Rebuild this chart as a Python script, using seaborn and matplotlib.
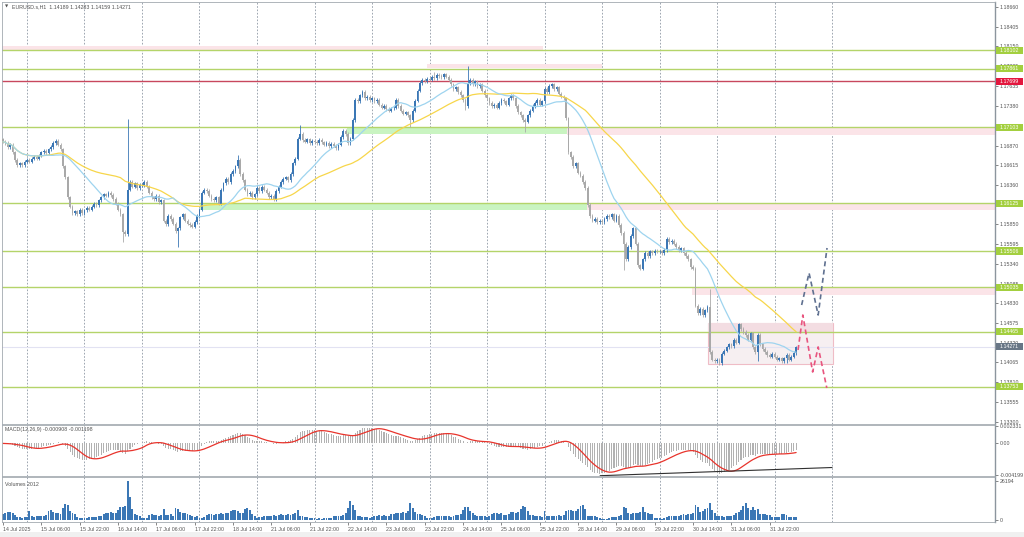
import numpy as np
import pandas as pd
import matplotlib
matplotlib.use("Agg")
import matplotlib.pyplot as plt
import matplotlib.transforms as mtrans
from matplotlib.patches import Rectangle
import seaborn as sns

sns.set_style("white")
plt.rcParams['font.family'] = ['Liberation Sans', 'DejaVu Sans']

# ---- hourly closes, EURUSD H1 ----
close_14jul = [1.1692, 1.1690, 1.1685, 1.1688, 1.1678, 1.1668, 1.1662, 1.1664, 1.1662, 1.1666]
close_15jul = [1.1668, 1.1666, 1.1670, 1.1672, 1.1670, 1.1674, 1.1678, 1.1680, 1.1677, 1.1682, 1.1685, 1.1690,
               1.1693, 1.1688, 1.1682, 1.1660, 1.1646, 1.1620, 1.1608, 1.1600, 1.1602, 1.1598, 1.1604, 1.1600]
close_16jul = [1.1603, 1.1606, 1.1604, 1.1608, 1.1612, 1.1610, 1.1616, 1.1620, 1.1624, 1.1622, 1.1626, 1.1623,
               1.1618, 1.1612, 1.1604, 1.1598, 1.1575, 1.1572, 1.1630, 1.1640, 1.1634, 1.1638, 1.1632, 1.1636]
close_17jul = [1.1636, 1.1640, 1.1634, 1.1626, 1.1620, 1.1618, 1.1622, 1.1614, 1.1616, 1.1590, 1.1585, 1.1596,
               1.1592, 1.1586, 1.1576, 1.1580, 1.1594, 1.1598, 1.1590, 1.1586, 1.1584, 1.1582, 1.1588, 1.1596]
close_18jul = [1.1604, 1.1626, 1.1630, 1.1628, 1.1622, 1.1618, 1.1616, 1.1620, 1.1612, 1.1630, 1.1638, 1.1644,
               1.1640, 1.1650, 1.1654, 1.1660, 1.1668, 1.1650, 1.1642, 1.1630, 1.1624, 1.1626, 1.1620, 1.1624]
close_21jul = [1.1632, 1.1628, 1.1634, 1.1630, 1.1626, 1.1620, 1.1622, 1.1618, 1.1628, 1.1634, 1.1640, 1.1644,
               1.1646, 1.1642, 1.1650, 1.1664, 1.1670, 1.1696, 1.1702, 1.1694, 1.1692, 1.1695, 1.1690, 1.1693]
close_22jul = [1.1692, 1.1690, 1.1694, 1.1691, 1.1688, 1.1690, 1.1686, 1.1689, 1.1687, 1.1684, 1.1688, 1.1698,
               1.1706, 1.1702, 1.1690, 1.1696, 1.1720, 1.1746, 1.1744, 1.1752, 1.1756, 1.1748, 1.1750, 1.1746]
close_23jul = [1.1748, 1.1744, 1.1746, 1.1740, 1.1736, 1.1738, 1.1734, 1.1732, 1.1735, 1.1736, 1.1746, 1.1738,
               1.1732, 1.1728, 1.1730, 1.1726, 1.1720, 1.1732, 1.1745, 1.1758, 1.1768, 1.1772, 1.1770, 1.1773]
close_24jul = [1.1772, 1.1776, 1.1774, 1.1778, 1.1777, 1.1775, 1.1779, 1.1776, 1.1772, 1.1766, 1.1760, 1.1762,
               1.1756, 1.1752, 1.1746, 1.1738, 1.1768, 1.1772, 1.1766, 1.1770, 1.1764, 1.1766, 1.1758, 1.1752]
close_25jul = [1.1748, 1.1742, 1.1738, 1.1740, 1.1736, 1.1742, 1.1746, 1.1744, 1.1740, 1.1748, 1.1752, 1.1748,
               1.1738, 1.1730, 1.1726, 1.1720, 1.1718, 1.1726, 1.1732, 1.1738, 1.1742, 1.1746, 1.1740, 1.1744]
close_28jul = [1.1760, 1.1756, 1.1764, 1.1766, 1.1760, 1.1762, 1.1754, 1.1750, 1.1748, 1.1722, 1.1678, 1.1672,
               1.1660, 1.1664, 1.1652, 1.1648, 1.1640, 1.1632, 1.1610, 1.1596, 1.1590, 1.1592, 1.1588, 1.1590]
close_29jul = [1.1588, 1.1592, 1.1596, 1.1594, 1.1598, 1.1590, 1.1596, 1.1584, 1.1574, 1.1560, 1.1540, 1.1556,
               1.1570, 1.1580, 1.1560, 1.1532, 1.1528, 1.1540, 1.1548, 1.1544, 1.1550, 1.1548, 1.1551, 1.1550]
close_30jul = [1.1550, 1.1548, 1.1552, 1.1566, 1.1562, 1.1564, 1.1560, 1.1556, 1.1552, 1.1554, 1.1548, 1.1544,
               1.1540, 1.1530, 1.1528, 1.1480, 1.1470, 1.1476, 1.1468, 1.1474, 1.1478, 1.1420, 1.1410, 1.1408]
close_31jul = [1.1410, 1.1406, 1.1418, 1.1422, 1.1426, 1.1430, 1.1428, 1.1436, 1.1432, 1.1456, 1.1450, 1.1446,
               1.1442, 1.1436, 1.1444, 1.1426, 1.1420, 1.1442, 1.1430, 1.1424, 1.1420, 1.1416, 1.1414, 1.1418]
close_01aug = [1.1414, 1.1410, 1.1412, 1.1408, 1.1412, 1.1416, 1.1410, 1.1414, 1.14189, 1.14271]
first_open = 1.1695

# notable wicks (bar index -> price)
wick_high = {52: 1.1721, 98: 1.1675, 124: 1.1714, 194: 1.1790, 180: 1.1782, 295: 1.1502, 331: 1.14283}
wick_low = {50: 1.1562, 73: 1.1556, 170: 1.1711, 193: 1.1733, 218: 1.1705, 259: 1.1526,
            299: 1.1403, 315: 1.1408, 327: 1.1406, 331: 1.14159}

# tick volumes
vol_14jul = [3800, 4500, 5100, 5100, 4500, 3200, 1900, 1900, 1300, 1900]
vol_15jul = [2000, 5800, 2600, 2300, 2800, 2500, 3000, 2600, 3200, 5800, 6400, 5400,
             4500, 4800, 4200, 8300, 10900, 10200, 6000, 4500, 3800, 2000, 1500, 1300]
vol_16jul = [1300, 1600, 1900, 2200, 1800, 2100, 2400, 3000, 4200, 4800, 4500, 5100,
             4400, 5000, 7000, 9000, 8600, 9200, 26194, 15400, 7700, 4200, 3500, 2600]
vol_17jul = [1300, 1100, 1500, 3400, 3800, 3200, 3600, 3000, 3500, 7700, 3500, 3200,
             3800, 3000, 8000, 7200, 5600, 4500, 4800, 4000, 3200, 2500, 2200, 2600]
vol_18jul = [1300, 1400, 1800, 3600, 4200, 3800, 3400, 3900, 4300, 4600, 4000, 4800,
             4400, 5800, 6400, 7000, 6200, 5000, 4600, 7700, 8000, 6500, 3800, 2600]
vol_21jul = [1500, 2000, 2300, 2600, 2800, 3000, 2700, 3200, 2900, 3400, 3800, 3600,
             3200, 3900, 3500, 4200, 4600, 6400, 3000, 2400, 2200, 1900, 1600, 1400]
vol_22jul = [1100, 900, 1200, 1000, 1300, 1500, 1200, 1600, 2600, 3000, 2400, 2800,
             3200, 4500, 7800, 12800, 10200, 6400, 3000, 2400, 2200, 1800, 1900, 1500]
vol_23jul = [2200, 2600, 2900, 3200, 2800, 3100, 2700, 3000, 3800, 4200, 4600, 5000,
             4500, 5200, 4800, 6000, 11500, 8000, 5400, 4200, 3800, 3500, 2400, 1500]
vol_24jul = [1200, 1500, 2200, 2500, 2800, 2400, 2600, 3000, 2700, 2300, 2900, 3200,
             3600, 4000, 6400, 9000, 8600, 5800, 4800, 3400, 3000, 2800, 2600, 2400]
vol_25jul = [2200, 2800, 4200, 4800, 4400, 3800, 4600, 3600, 3200, 4000, 5100, 5400,
             4800, 5600, 7200, 9600, 8400, 6200, 3600, 3200, 3000, 2600, 2800, 1800]
vol_28jul = [5800, 2600, 2400, 2800, 2500, 2900, 3100, 2700, 3300, 6000, 7000, 6600,
             6200, 5800, 7600, 9600, 10400, 7400, 3000, 2600, 2400, 2800, 2200, 1600]
vol_29jul = [700, 600, 900, 1200, 1800, 2000, 1700, 2400, 3600, 9000, 7800, 4800,
             4200, 5000, 4400, 4600, 5200, 8600, 5400, 4600, 4200, 3800, 1500, 1200]
vol_30jul = [1200, 1000, 1400, 1700, 2500, 2800, 2400, 3000, 2600, 3600, 4000, 3400,
             3800, 4200, 5000, 10200, 8600, 5400, 6000, 7600, 8200, 11500, 6800, 4400]
vol_31jul = [2800, 2400, 2600, 2200, 2700, 3000, 2500, 3200, 5000, 5600, 6400, 9600,
             11500, 8000, 7000, 9000, 6400, 7200, 4200, 3800, 4000, 3600, 3400, 2000]
vol_01aug = [1800, 2200, 2000, 3800, 4200, 3600, 2200, 2000, 1800, 2012]

# levels
green_levels = [1.18102, 1.17861, 1.17103, 1.16125, 1.15506, 1.15035, 1.14465, 1.13753]
red_level = 1.17699
last_price = 1.14271
# scale ticks (1.17125 and 1.16105 sit fully under level tags in the terminal)
price_ticks = [1.18660, 1.18405, 1.18150, 1.17895, 1.17635, 1.17380, 1.16870, 1.16615,
               1.16360, 1.15850, 1.15595, 1.15340, 1.15085, 1.14830, 1.14575, 1.14320,
               1.14065, 1.13810, 1.13555, 1.13300]
# zones: (start bar, end bar, low, high, kind)
zones = [(-0.5, 225.4, 1.18104, 1.18156, 'pink'),
         (177.0, 250.0, 1.17872, 1.17923, 'pink'),
         (143.6, 235.4, 1.17019, 1.17109, 'green'),
         (235.4, 414.5, 1.17010, 1.17103, 'pink'),
         (82.2, 243.7, 1.16036, 1.16127, 'green'),
         (243.7, 414.5, 1.16030, 1.16125, 'pink'),
         (287.6, 414.5, 1.14938, 1.15024, 'pink')]
box = (294.2, 346.4, 1.14046, 1.14576)
box_band = (294.2, 346.4, 1.14447, 1.14576)
# forecast paths
fc_up_bar = [333.3, 336.4, 340.2, 343.9]
fc_up_price = [1.14808, 1.15222, 1.14679, 1.15545]
fc_dn_bar = [331.8, 333.8, 337.9, 340.2, 343.8]
fc_dn_price = [1.14227, 1.14679, 1.13942, 1.14266, 1.13736]
macd_trend_bar = [249.2, 346.0]
macd_trend_val = [-0.00426, -0.00318]

day_starts = [10, 34, 58, 82, 106, 130, 154, 178, 202, 226, 250, 274, 298, 322, 346]
x_labels = ['14 Jul 2025', '15 Jul 06:00', '15 Jul 22:00', '16 Jul 14:00', '17 Jul 06:00',
            '17 Jul 22:00', '18 Jul 14:00', '21 Jul 06:00', '21 Jul 22:00', '22 Jul 14:00',
            '23 Jul 06:00', '23 Jul 22:00', '24 Jul 14:00', '25 Jul 06:00', '25 Jul 22:00',
            '28 Jul 14:00', '29 Jul 06:00', '29 Jul 22:00', '30 Jul 14:00', '31 Jul 06:00',
            '31 Jul 22:00']

# ---- assemble ----
c = np.array(close_14jul + close_15jul + close_16jul + close_17jul + close_18jul + close_21jul
             + close_22jul + close_23jul + close_24jul + close_25jul + close_28jul + close_29jul
             + close_30jul + close_31jul + close_01aug)
vol = np.array(vol_14jul + vol_15jul + vol_16jul + vol_17jul + vol_18jul + vol_21jul + vol_22jul
               + vol_23jul + vol_24jul + vol_25jul + vol_28jul + vol_29jul + vol_30jul + vol_31jul
               + vol_01aug)
idx = np.arange(len(c))
o = np.r_[first_open, c[:-1]]
hi = np.maximum(o, c) + 0.00022
lo = np.minimum(o, c) - 0.00022
for k, v in wick_high.items():
    hi[k] = v
for k, v in wick_low.items():
    lo[k] = v

s = pd.Series(c)
ma_fast = s.rolling(20, min_periods=1).mean()
ma_slow = s.rolling(50, min_periods=1).mean()
macd = s.ewm(span=12, adjust=False).mean() - s.ewm(span=26, adjust=False).mean()
signal = macd.rolling(9, min_periods=1).mean()

BLUE = '#3b77b5'
GRAY = '#a9a9a9'
LEVEL_GREEN = '#b4d46a'
LABEL_GREEN = '#a3cf3f'
PINK = '#fbe4e8'
GREEN_Z = '#c9f4c1'
GRID = '#8e98a4'
SPINE = '#a2a9b0'

W, H = 1024, 537
fig = plt.figure(figsize=(W / 100, H / 100), dpi=100)
fig.patches.append(Rectangle((0, 0), 1, 5 / H, transform=fig.transFigure, fc='#f0f0f0', ec='none'))

def px_axes(top, bottom):
    return fig.add_axes([2 / W, 1 - bottom / H, 993 / W, (bottom - top) / H])

ax = px_axes(2, 424)
axm = px_axes(425, 476)
axv = px_axes(477, 522)
XL = (-0.42, 414.0)

# ---- price panel ----
for x0, x1, y0, y1, kind in zones:
    ax.add_patch(Rectangle((x0, y0), x1 - x0, y1 - y0, fc=PINK if kind == 'pink' else GREEN_Z,
                           ec='none', zorder=1))
bx0, bx1, by0, by1 = box
ax.add_patch(Rectangle((bx0, by0), bx1 - bx0, by1 - by0, fc='#f6eff1', ec='#efbcc6', lw=0.8, zorder=1))
bx0, bx1, by0, by1 = box_band
ax.add_patch(Rectangle((bx0, by0), bx1 - bx0, by1 - by0, fc='#f3dde2', ec='none', zorder=1))

for lv in green_levels:
    ax.axhline(lv, color=LEVEL_GREEN, lw=1.0, zorder=2)
ax.axhline(red_level, color='#c8485e', lw=1.0, zorder=2)
ax.axhline(last_price, color='#e2e2f2', lw=0.8, zorder=2)

up = c >= o
col = np.where(up, BLUE, GRAY)
ax.vlines(idx, lo, hi, colors=col, lw=0.6, zorder=3)
body = np.maximum(np.abs(c - o), 0.00005)
ax.bar(idx, body, bottom=np.minimum(o, c), width=0.75, color=col, linewidth=0, zorder=4)

sns.lineplot(x=idx, y=ma_slow.values, ax=ax, color='#f7d64a', lw=0.9, estimator=None, zorder=5)
sns.lineplot(x=idx, y=ma_fast.values, ax=ax, color='#9ed4ef', lw=0.9, estimator=None, zorder=5)

ax.plot(fc_up_bar, fc_up_price, color='#5f7090', lw=1.2, ls=(0, (3, 2)), zorder=6)
ax.plot(fc_dn_bar, fc_dn_price, color='#e8557f', lw=1.2, ls=(0, (3, 2)), zorder=6)

ax.set_xlim(*XL)
ax.set_ylim(1.13270, 1.18725)
ax.set_yticks(price_ticks)
ax.set_yticklabels([f'{t:.5f}' for t in price_ticks])

# coloured level labels on the price scale
tr = mtrans.blended_transform_factory(ax.transAxes, ax.transData)
hgt = 0.00092
def level_tag(val, fc):
    ax.add_patch(Rectangle((1.0012, val - hgt / 2), 0.0275, hgt, transform=tr, fc=fc, ec='none',
                           clip_on=False, zorder=10))
    ax.text(1.0045, val, f'{val:.5f}', transform=tr, ha='left', va='center', fontsize=3.8,
            color='white', zorder=11, clip_on=False)
for lv in green_levels:
    level_tag(lv, LABEL_GREEN)
level_tag(red_level, '#e3173e')
level_tag(last_price, '#687686')

# ---- MACD panel ----
axm.bar(idx, macd.values, width=0.45, color='#b2b2b2', linewidth=0)
sns.lineplot(x=idx, y=signal.values, ax=axm, color='#e8342c', lw=0.9, estimator=None)
axm.plot(macd_trend_bar, macd_trend_val, color='#303030', lw=0.8)
axm.set_xlim(*XL)
axm.set_ylim(-0.00430, 0.00243)
axm.set_yticks([0.002331, 0.0, -0.004199])
axm.set_yticklabels(['0.002331', '0.00', '-0.004199'])

# ---- volume panel ----
sns.barplot(x=idx, y=vol, native_scale=True, color=BLUE, saturation=1, width=0.8,
            errorbar=None, ax=axv, linewidth=0)
axv.set_xlim(*XL)
axv.set_ylim(-1343, 28881)
axv.set_yticks([26194, 0])
axv.set_yticklabels(['26194', '0'])
axv.set_xticks(idx[::16][:len(x_labels)])
axv.set_xticklabels(x_labels, ha='left')

for a in (ax, axm, axv):
    a.set_xlabel('')
    a.set_ylabel('')
    a.yaxis.tick_right()
    a.tick_params(axis='y', labelsize=3.8, length=2, width=0.5, pad=1.2, colors='#555555')
    for d in day_starts:
        a.axvline(d, color=GRID, lw=0.6, ls=(0, (2, 2)), zorder=0.5)
    for side, sp in a.spines.items():
        sp.set_color(SPINE)
        sp.set_linewidth(0.6)
    a.spines['right'].set_color('#8c959e')
    a.spines['right'].set_linewidth(1.0)
for a in (ax, axm):
    a.tick_params(axis='x', bottom=False, labelbottom=False)
axv.tick_params(axis='x', labelsize=3.8, length=2, width=0.5, pad=1.5, colors='#555555', bottom=True)

# ---- header texts ----
def ptext(x, y, s, **kw):
    fig.text(x / W, 1 - y / H, s, fontsize=3.8, color='#505050', va='center', ha='left', **kw)
fig.text(5 / W, 1 - 7 / H, '\u25bc', fontsize=3.0, color='#505050', va='center', ha='left',
         family=['DejaVu Sans'])
ptext(12, 7, 'EURUSD.s,H1  1.14189 1.14283 1.14159 1.14271')
ptext(5, 430, 'MACD(12,26,9) -0.000908 -0.001198')
ptext(5, 484, 'Volumes 2012')

fig.savefig('out.png', dpi=100)
